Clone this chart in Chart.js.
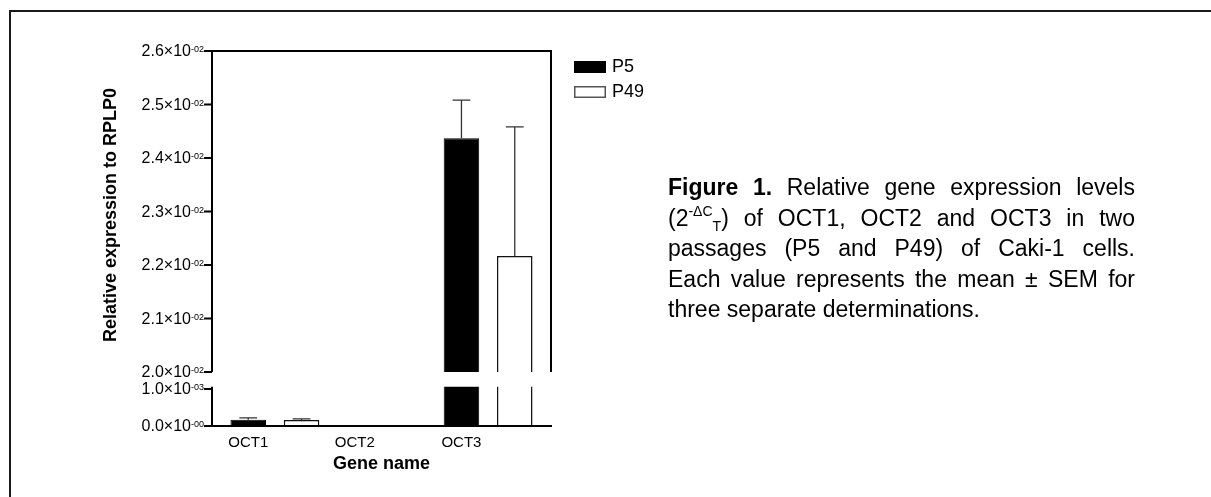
<!DOCTYPE html>
<html>
<head>
<meta charset="utf-8">
<script src="https://cdn.jsdelivr.net/npm/chart.js@4.4.1/dist/chart.umd.min.js"></script>
<style>
  html, body { margin:0; padding:0; background:#fff; }
  body { width:1211px; height:497px; position:relative; overflow:hidden; }
  #frame { position:absolute; left:9px; top:10px; right:-5px; bottom:-5px;
           border-left:2px solid #1a1a1a; border-top:2px solid #1a1a1a; }
  #wrap { position:absolute; left:0; top:0; width:1211px; height:497px; }
  .cap { position:absolute; left:668px; top:172px; width:467px;
         font-family:"Liberation Sans", Arial, sans-serif; font-size:23px; line-height:30.5px; color:#000; }
  .cap div { text-align:justify; text-align-last:justify; }
  .cap div.last { text-align-last:left; }
  .sup { font-size:14px; position:relative; top:-10px; line-height:0; }
  .sub { font-size:14px; position:relative; top:5px; line-height:0; }
</style>
</head>
<body>
<div id="frame"></div>
<div id="wrap"><canvas id="c" width="1211" height="497"></canvas></div>
<div class="cap">
  <div><b>Figure 1.</b> Relative gene expression levels</div>
  <div>(2<span class="sup">-ΔC</span><span class="sub">T</span>) of OCT1, OCT2 and OCT3 in two</div>
  <div>passages (P5 and P49) of Caki-1 cells.</div>
  <div>Each value represents the mean ± SEM for</div>
  <div class="last">three separate determinations.</div>
</div>
<script>
// ---- data ----
const categories = ['OCT1', 'OCT2', 'OCT3'];
const seriesNames = ['P5', 'P49'];
const p5Mean  = [0.00017, 0.00001, 0.02437];
const p5Sem   = [0.00005, 0, 0.00071];
const p49Mean = [0.00016, 0.00001, 0.02217];
const p49Sem  = [0.00003, 0, 0.00241];
const highTicks = [0.020, 0.021, 0.022, 0.023, 0.024, 0.025, 0.026];
const highTickLabels = ['2.0×10^-02','2.1×10^-02','2.2×10^-02','2.3×10^-02','2.4×10^-02','2.5×10^-02','2.6×10^-02'];
const lowTicks = [0, 0.001];
const lowTickLabels = ['0.0×10^-00', '1.0×10^-03'];
const xTitle = 'Gene name';
const yTitle = 'Relative expression to RPLP0';

// visible ranges of the two axis segments
const highVisible = [0.020, 0.026];
const lowVisible = [0, 0.00106];

const FONT = '"Liberation Sans", Arial, sans-serif';

function pts(vals) { return vals.map((v, i) => ({ x: i, y: v })); }

const styleP5 = { backgroundColor: '#000', borderColor: '#000', borderWidth: 1 };
const styleP49 = { backgroundColor: '#fff', borderColor: '#111', borderWidth: 1.5 };

const datasets = [
  Object.assign({ label: seriesNames[0], data: pts(p5Mean), errors: p5Sem, yAxisID: 'yHigh', stack: 'P5' }, styleP5),
  Object.assign({ label: seriesNames[1], data: pts(p49Mean), errors: p49Sem, yAxisID: 'yHigh', stack: 'P49' }, styleP49),
  Object.assign({ label: seriesNames[0], data: pts(p5Mean), errors: p5Sem, yAxisID: 'yLow', stack: 'P5' }, styleP5),
  Object.assign({ label: seriesNames[1], data: pts(p49Mean), errors: p49Sem, yAxisID: 'yLow', stack: 'P49' }, styleP49)
];

function region(chart, id) {
  const s = chart.scales[id];
  const r = id === 'yHigh' ? highVisible : lowVisible;
  return { top: s.getPixelForValue(r[1]), bottom: s.getPixelForValue(r[0]) };
}

function drawTickLabel(ctx, text, xRight, y) {
  const parts = text.split('^');
  ctx.font = '9px ' + FONT;
  const supW = ctx.measureText(parts[1]).width;
  ctx.textAlign = 'right';
  ctx.textBaseline = 'middle';
  ctx.font = '16px ' + FONT;
  ctx.fillText(parts[0], xRight - supW, y + 1);
  ctx.font = '9px ' + FONT;
  ctx.textBaseline = 'alphabetic';
  ctx.textAlign = 'left';
  ctx.fillText(parts[1], xRight - supW, y + 1);
}

const brokenAxis = {
  id: 'brokenAxis',
  beforeDatasetDraw(chart, args) {
    const ds = chart.data.datasets[args.index];
    const r = region(chart, ds.yAxisID);
    const a = chart.chartArea;
    const ctx = chart.ctx;
    ctx.save();
    ctx.beginPath();
    ctx.rect(a.left, r.top, a.right - a.left, r.bottom - r.top);
    ctx.clip();
  },
  afterDatasetDraw(chart, args) {
    const ctx = chart.ctx;
    const ds = chart.data.datasets[args.index];
    const meta = chart.getDatasetMeta(args.index);
    const s = chart.scales[ds.yAxisID];
    ctx.strokeStyle = '#333';
    ctx.lineWidth = 1.3;
    meta.data.forEach((bar, i) => {
      const e = ds.errors[i];
      if (!e) return;
      const yTop = s.getPixelForValue(ds.data[i].y);
      const yErr = s.getPixelForValue(ds.data[i].y + e);
      const half = bar.width * 0.25;
      ctx.beginPath();
      ctx.moveTo(bar.x, yTop);
      ctx.lineTo(bar.x, yErr);
      ctx.moveTo(bar.x - half, yErr);
      ctx.lineTo(bar.x + half, yErr);
      ctx.stroke();
    });
    ctx.restore();
  },
  afterDraw(chart) {
    const ctx = chart.ctx;
    const a = chart.chartArea;
    const yH = chart.scales.yHigh, yL = chart.scales.yLow;
    const hTop = yH.getPixelForValue(highVisible[1]);
    const hBot = yH.getPixelForValue(highVisible[0]);
    const lTop = yL.getPixelForValue(lowVisible[1]);
    const lBot = yL.getPixelForValue(lowVisible[0]);
    ctx.save();
    ctx.strokeStyle = '#000';
    ctx.lineWidth = 2;
    ctx.lineCap = 'butt';
    ctx.beginPath();
    ctx.moveTo(a.left, hBot); ctx.lineTo(a.left, hTop - 1);
    ctx.moveTo(a.left - 1, hTop); ctx.lineTo(a.right + 1, hTop);
    ctx.moveTo(a.right, hTop - 1); ctx.lineTo(a.right, hBot);
    ctx.moveTo(a.left, lTop); ctx.lineTo(a.left, lBot + 1);
    ctx.moveTo(a.left - 1, lBot); ctx.lineTo(a.right + 1, lBot);
    highTicks.forEach(v => { const y = yH.getPixelForValue(v); ctx.moveTo(a.left - 8, y); ctx.lineTo(a.left, y); });
    lowTicks.forEach(v => { const y = yL.getPixelForValue(v); ctx.moveTo(a.left - 8, y); ctx.lineTo(a.left, y); });
    ctx.stroke();

    ctx.fillStyle = '#000';
    highTicks.forEach((v, i) => drawTickLabel(ctx, highTickLabels[i], a.left - 8, yH.getPixelForValue(v)));
    lowTicks.forEach((v, i) => drawTickLabel(ctx, lowTickLabels[i], a.left - 8, yL.getPixelForValue(v)));

    const m0 = chart.getDatasetMeta(2);
    ctx.font = '15px ' + FONT;
    ctx.textAlign = 'center';
    ctx.textBaseline = 'alphabetic';
    categories.forEach((c, i) => ctx.fillText(c, m0.data[i].x, lBot + 21));

    ctx.font = 'bold 18px ' + FONT;
    ctx.fillText(xTitle, (a.left + a.right) / 2, lBot + 43);
    ctx.save();
    ctx.translate(111, 215);
    ctx.rotate(-Math.PI / 2);
    ctx.textBaseline = 'middle';
    ctx.fillText(yTitle, 0, 0);
    ctx.restore();

    const legendX = a.right + 23, legendY = [61, 86];
    chart.data.datasets.slice(0, 2).forEach((ds, i) => {
      const y = legendY[i];
      ctx.fillStyle = ds.backgroundColor;
      ctx.fillRect(legendX, y, 32, 12);
      if (ds.backgroundColor !== '#000') {
        ctx.strokeStyle = '#555';
        ctx.lineWidth = 1.5;
        ctx.strokeRect(legendX + 0.75, y + 0.75, 30.5, 10.5);
      }
      ctx.fillStyle = '#000';
      ctx.font = '18px ' + FONT;
      ctx.textAlign = 'left';
      ctx.textBaseline = 'middle';
      ctx.fillText(ds.label, legendX + 38, y + 6.5);
    });
    ctx.restore();
  }
};

new Chart(document.getElementById('c'), {
  type: 'bar',
  data: { datasets },
  options: {
    responsive: false,
    animation: false,
    events: [],
    layout: { padding: { left: 212, top: 51, right: 660, bottom: 71 } },
    datasets: { bar: { categoryPercentage: 1.0, barPercentage: 0.667 } },
    plugins: { legend: { display: false }, tooltip: { enabled: false } },
    scales: {
      x: { type: 'linear', display: false, min: -0.59, max: 2.59, offset: false, bounds: 'data',
           afterBuildTicks: s => { s.ticks = categories.map((c, i) => ({ value: i })); } },
      yHigh: { type: 'linear', display: false, position: 'left', min: 0.0189907, max: 0.026, bounds: 'data', stacked: false },
      yLow: { type: 'linear', display: false, position: 'left', min: 0, max: 0.010135, bounds: 'data', stacked: false }
    }
  },
  plugins: [brokenAxis]
});
</script>
</body>
</html>
